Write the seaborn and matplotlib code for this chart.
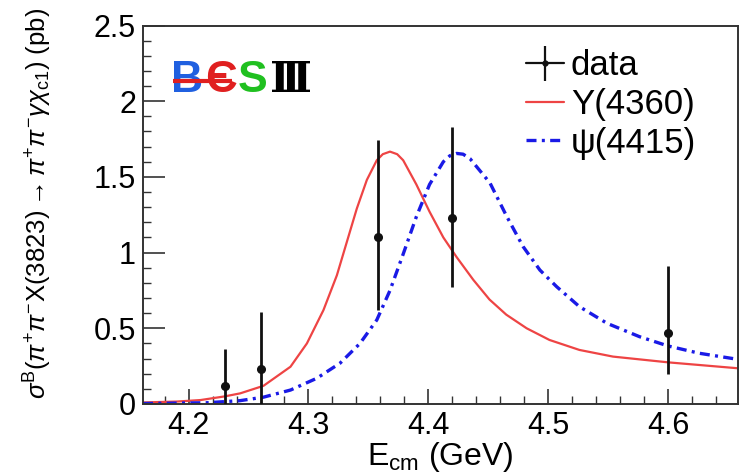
import numpy as np
import pandas as pd
import matplotlib
matplotlib.use("Agg")
import matplotlib.pyplot as plt
from matplotlib.ticker import MultipleLocator
import seaborn as sns

# ---------------- data ----------------
data_E = [4.23, 4.26, 4.358, 4.42, 4.60]
data_sigma = [0.12, 0.23, 1.10, 1.23, 0.47]
data_err_lo = [0.12, 0.23, 0.48, 0.46, 0.275]
data_err_hi = [0.24, 0.38, 0.645, 0.60, 0.44]

y4360_E = [4.162, 4.19, 4.21, 4.23, 4.243, 4.2625, 4.285, 4.2987, 4.3125, 4.3237,
           4.332, 4.3403, 4.3487, 4.357, 4.362, 4.368, 4.374, 4.379, 4.390, 4.401,
           4.4125, 4.4236, 4.4375, 4.451, 4.465, 4.482, 4.501, 4.526, 4.554, 4.60, 4.658]
y4360_sigma = [0.01, 0.016, 0.026, 0.05, 0.07, 0.12, 0.246, 0.40, 0.62, 0.85,
               1.07, 1.29, 1.48, 1.61, 1.65, 1.667, 1.65, 1.61, 1.45, 1.27,
               1.10, 0.97, 0.82, 0.69, 0.59, 0.50, 0.423, 0.357, 0.313, 0.275, 0.236]

psi4415_E = [4.162, 4.215, 4.243, 4.2625, 4.285, 4.307, 4.3264, 4.343, 4.357, 4.368,
             4.379, 4.390, 4.401, 4.4125, 4.418, 4.4236, 4.429, 4.4348, 4.4514, 4.4653,
             4.479, 4.493, 4.507, 4.526, 4.549, 4.576, 4.60, 4.626, 4.658]
psi4415_sigma = [0.003, 0.008, 0.022, 0.045, 0.092, 0.17, 0.27, 0.40, 0.555, 0.75,
                 0.99, 1.237, 1.45, 1.60, 1.64, 1.655, 1.65, 1.62, 1.46, 1.24,
                 1.04, 0.885, 0.775, 0.643, 0.533, 0.445, 0.383, 0.335, 0.295]

x_ticks = [4.2, 4.3, 4.4, 4.5, 4.6]
y_ticks = [0, 0.5, 1, 1.5, 2, 2.5]
x_tick_labels = ["4.2", "4.3", "4.4", "4.5", "4.6"]
y_tick_labels = ["0", "0.5", "1", "1.5", "2", "2.5"]

# ---------------- style ----------------
sns.set_theme(style="white")
plt.rcParams["font.family"] = ["Liberation Sans", "DejaVu Sans"]
plt.rcParams["mathtext.fontset"] = "custom"
plt.rcParams["mathtext.rm"] = "Liberation Sans"
plt.rcParams["mathtext.it"] = "Liberation Sans:italic"
plt.rcParams["mathtext.sf"] = "Liberation Sans"
plt.rcParams["text.color"] = "black"
plt.rcParams["axes.labelcolor"] = "black"
plt.rcParams["xtick.color"] = "black"
plt.rcParams["ytick.color"] = "black"

fig = plt.figure(figsize=(7.41, 4.76), dpi=100)
ax = fig.add_axes([0.193, 0.1513, 0.8025, 0.7951])

red = "#ee4444"
blue = "#1a1ae6"

curve_r = pd.DataFrame({"E": y4360_E, "sigma": y4360_sigma})
curve_b = pd.DataFrame({"E": psi4415_E, "sigma": psi4415_sigma})

sns.lineplot(data=curve_r, x="E", y="sigma", ax=ax, color=red, lw=1.6,
             sort=False, label="Y(4360)", legend=False)
sns.lineplot(data=curve_b, x="E", y="sigma", ax=ax, color=blue, lw=2.4,
             sort=False, label="ψ(4415)", legend=False)
ax.lines[-1].set_dashes([3.0, 1.6, 0.9, 1.6])

ax.errorbar(data_E, data_sigma, yerr=[data_err_lo, data_err_hi], fmt="o",
            color="#111111", ms=5.5, elinewidth=2.0, capsize=0, zorder=5)
ax.errorbar([np.nan], [np.nan], yerr=[[np.nan], [np.nan]], fmt="o-",
            color="#111111", ms=3.5, lw=1.6, elinewidth=1.6, capsize=0,
            label="data")

ax.set_xlim(4.162, 4.658)
ax.set_ylim(0, 2.5)
ax.set_xticks(x_ticks)
ax.set_xticklabels(x_tick_labels)
ax.set_yticks(y_ticks)
ax.set_yticklabels(y_tick_labels)
ax.xaxis.set_minor_locator(MultipleLocator(0.02))
ax.yaxis.set_minor_locator(MultipleLocator(0.1))
ax.tick_params(axis="both", which="both", bottom=True, left=True, top=False,
               right=False, direction="in", color="#333333")
ax.tick_params(axis="both", which="major", labelsize=22, width=1.2, pad=5)
ax.tick_params(axis="x", which="major", length=11)
ax.tick_params(axis="y", which="major", length=16)
ax.tick_params(axis="both", which="minor", length=6, width=1.0)
for s in ax.spines.values():
    s.set_color("#333333")
    s.set_linewidth(1.4)

ax.set_xlabel(r"E$_{\rm cm}$ (GeV)", fontsize=23, labelpad=-1)
ax.set_ylabel(r"$\sigma^{\rm B}(\pi^{+}\pi^{-}{\rm X(3823)}\rightarrow\pi^{+}\pi^{-}\gamma\chi_{\rm c1})$ (pb)",
              fontsize=18.5)
ax.yaxis.set_label_coords(-0.15, 0.53)

handles, labels = ax.get_legend_handles_labels()
order = [labels.index("data"), labels.index("Y(4360)"), labels.index("ψ(4415)")]
leg = ax.legend([handles[i] for i in order], [labels[i] for i in order],
                loc="upper left", bbox_to_anchor=(0.632, 0.955), frameon=False,
                fontsize=25, handlelength=1.1, handletextpad=0.2,
                labelspacing=0.16, borderaxespad=0.0, borderpad=0.2)

# BESIII logo as text
logo_y = 0.856
logo_kw = dict(transform=ax.transAxes, fontsize=32, fontweight="bold",
               va="center", ha="left")
ax.text(0.047, logo_y, "B", color="#2060e0", **logo_kw)
ax.text(0.104, logo_y, "Є", color="#e02020", **logo_kw)
ax.text(0.160, logo_y, "S", color="#20c020", **logo_kw)
ax.text(0.214, logo_y, "Ⅲ", transform=ax.transAxes, color="black",
        fontsize=30, fontweight="bold", va="center", ha="left",
        family=["DejaVu Serif", "DejaVu Sans"])
ax.plot([0.05, 0.15], [logo_y - 0.003, logo_y - 0.003], transform=ax.transAxes,
        color="#e02020", lw=3, solid_capstyle="butt", zorder=4)

fig.savefig("out.png", dpi=100)
